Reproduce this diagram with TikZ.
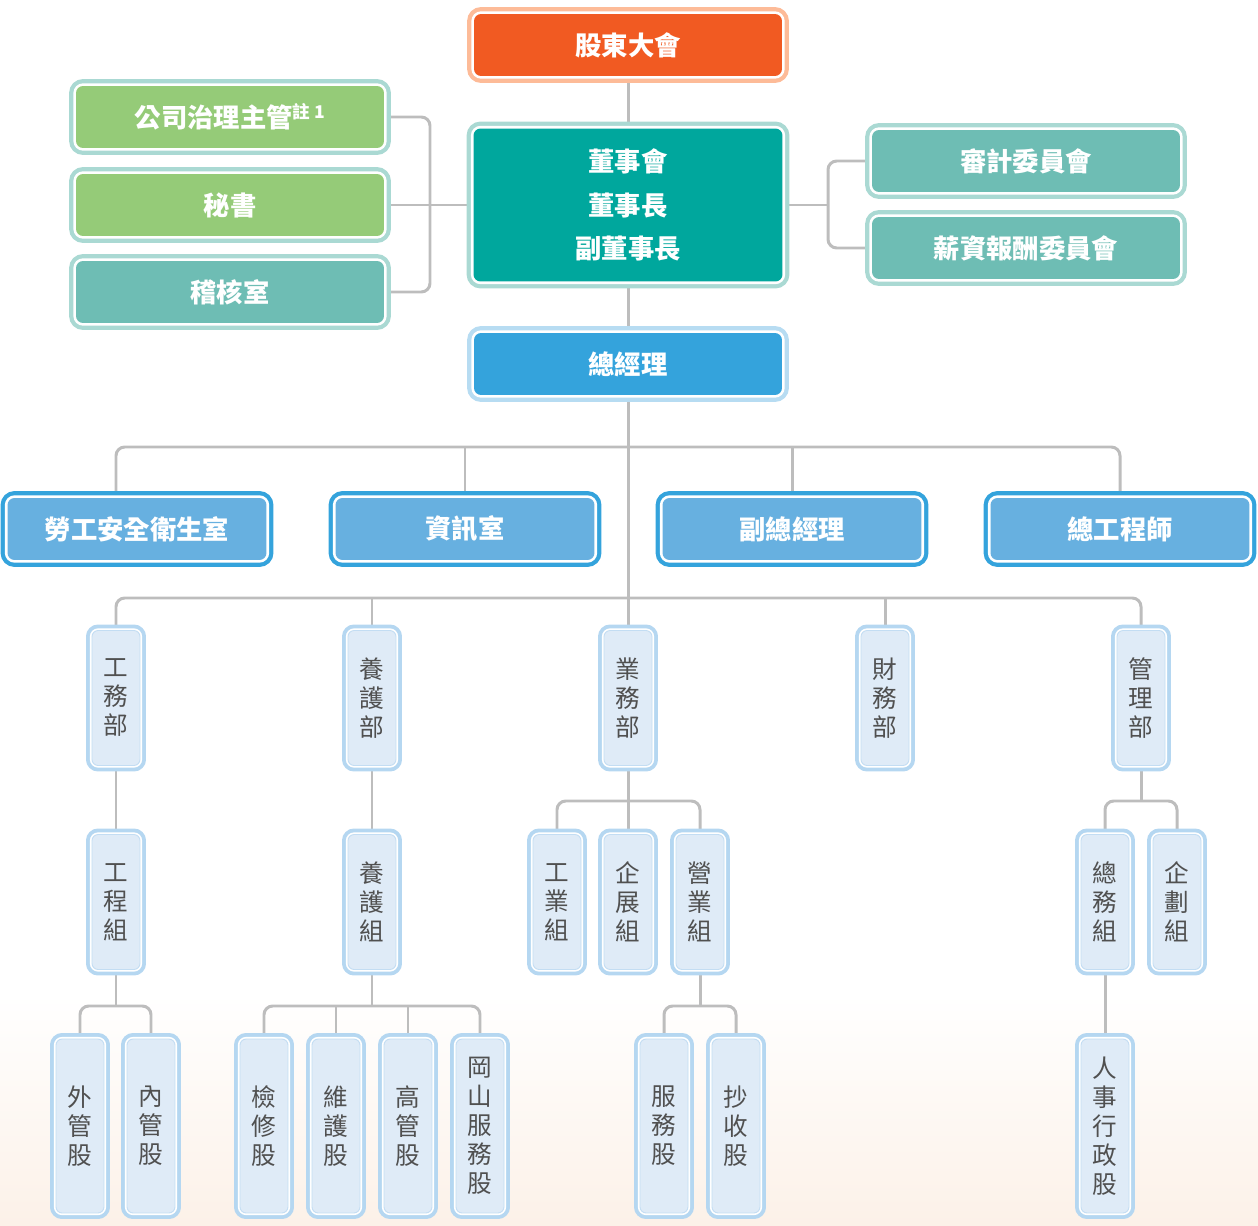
\documentclass[tikz,border=0pt]{standalone}
\usepackage{fontspec}
\usetikzlibrary{backgrounds}
\newfontfamily\tcfont{Noto Sans CJK TC}

\definecolor{shfill}{HTML}{F15A22}
\definecolor{shline}{HTML}{FDBB98}
\definecolor{bdfill}{HTML}{00A79D}
\definecolor{tlline}{HTML}{AAD9D3}
\definecolor{grfill}{HTML}{95CB78}
\definecolor{aufill}{HTML}{6EBDB4}
\definecolor{gmfill}{HTML}{34A3DC}
\definecolor{gmline}{HTML}{B7DCF2}
\definecolor{rwfill}{HTML}{67B0E0}
\definecolor{rwline}{HTML}{34A3DC}
\definecolor{vfill}{HTML}{DFEBF7}
\definecolor{vline}{HTML}{B5D7F1}
\definecolor{vthin}{HTML}{C3DDF3}
\definecolor{txgray}{HTML}{505050}
\definecolor{connc}{HTML}{BDBDBD}
\definecolor{peach}{HTML}{FCF1E8}

\begin{document}
\begin{tikzpicture}[x=0.02cm, y=-0.02cm]
    \tikzset{box/.style 2 args={rounded corners=4pt, inner sep=0pt, fill=#1, text=white,
                font=\tcfont\bfseries\fontsize{15pt}{17pt}\selectfont,
                preaction={draw=#2, double=white, line width=2.4pt, double distance=3pt}},
            wide/.style={minimum width=6.16cm, minimum height=1.24cm},
            rowbox/.style={box={rwfill}{rwline}, minimum width=5.18cm, minimum height=1.24cm},
            vbox/.style={rounded corners=3.5pt, inner sep=0pt, fill=vfill, draw=vthin, line width=0.5pt,
                text=txgray, align=center, minimum width=0.96cm, minimum height=#1,
                font=\tcfont\fontsize{14pt}{16.5pt}\selectfont,
                preaction={draw=vline, double=white, line width=2.2pt, double distance=2.4pt}},
            conn/.style={draw=connc, line width=1.7pt, rounded corners=5pt}};
    \useasboundingbox (0,0) rectangle (1258,1226);
    % top
    \node[box={shfill}{shline}, wide] (sh) at (628,45) {股東大會};
    \node[box={bdfill}{tlline}, minimum width=6.18cm, minimum height=3.06cm, align=center,
          font=\tcfont\bfseries\fontsize{15pt}{24.7pt}\selectfont] (board) at (628,205) {董事會\\董事長\\副董事長};
    \node[box={grfill}{tlline}, wide] (gov) at (230,117) {公司治理主管\raisebox{5pt}{\fontsize{10pt}{10pt}\selectfont 註 1}};
    \node[box={grfill}{tlline}, wide] (sec) at (230,205) {秘書};
    \node[box={aufill}{tlline}, wide] (aud) at (230,292) {稽核室};
    \node[box={aufill}{tlline}, wide] (audc) at (1026,161) {審計委員會};
    \node[box={aufill}{tlline}, wide] (pay) at (1026,248) {薪資報酬委員會};
    \node[box={gmfill}{gmline}, wide] (gm) at (628,364) {總經理};
    % second row
    \node[rowbox] (lab) at (137,529) {勞工安全衛生室};
    \node[rowbox] (it) at (465,529) {資訊室};
    \node[rowbox] (vgm) at (792,529) {副總經理};
    \node[rowbox] (ce) at (1120,529) {總工程師};
    % departments
    \node[vbox=2.7cm] (eng) at (116,698) {工\\務\\部};
    \node[vbox=2.7cm] (mnt) at (372,698) {養\\護\\部};
    \node[vbox=2.7cm] (biz) at (628,698) {業\\務\\部};
    \node[vbox=2.7cm] (fin) at (885,698) {財\\務\\部};
    \node[vbox=2.7cm] (adm) at (1141,698) {管\\理\\部};
    % groups
    \node[vbox=2.7cm] (engg) at (116,902) {工\\程\\組};
    \node[vbox=2.7cm] (mntg) at (372,902) {養\\護\\組};
    \node[vbox=2.7cm] (ind) at (557,902) {工\\業\\組};
    \node[vbox=2.7cm] (dev) at (628,902) {企\\展\\組};
    \node[vbox=2.7cm] (sal) at (700,902) {營\\業\\組};
    \node[vbox=2.7cm] (gen) at (1105,902) {總\\務\\組};
    \node[vbox=2.7cm] (plan) at (1177,902) {企\\劃\\組};
    % sections
    \node[vbox=3.48cm] (out) at (80,1126) {外\\管\\股};
    \node[vbox=3.48cm] (inn) at (151,1126) {內\\管\\股};
    \node[vbox=3.48cm] (ins) at (264,1126) {檢\\修\\股};
    \node[vbox=3.48cm] (rep) at (336,1126) {維\\護\\股};
    \node[vbox=3.48cm] (hi) at (408,1126) {高\\管\\股};
    \node[vbox=3.48cm] (gs) at (480,1126) {岡\\山\\服\\務\\股};
    \node[vbox=3.48cm] (svc) at (664,1126) {服\\務\\股};
    \node[vbox=3.48cm] (col) at (736,1126) {抄\\收\\股};
    \node[vbox=3.48cm] (hr) at (1105,1126) {人\\事\\行\\政\\股};
    % buses
    \coordinate (busA) at (628,447);
    \coordinate (busB) at (628,598);
    \coordinate (busC) at (628,801);
    \coordinate (busD) at (1141,801);
    \coordinate (busE) at (116,1006);
    \coordinate (busF) at (372,1006);
    \coordinate (busG) at (700,1006);
    \coordinate (lbrk) at (430,205);
    \coordinate (rbrk) at (828,205);
    \begin{scope}[on background layer]
        \shade[top color=white, bottom color=peach] (0,995) rectangle (1258,1226);
        \draw[conn] (sh) -- (board);
        \draw[conn] (gov.east) -| (lbrk) |- (aud.east);
        \draw[conn] (sec.east) -- (board.west);
        \draw[conn] (audc.west) -| (rbrk) |- (pay.west);
        \draw[conn] (board.east) -- (rbrk);
        \draw[conn] (board) -- (gm);
        \draw[conn] (gm.south) -- (biz.north);
        \draw[conn] ([xshift=-0.42cm]lab.north) |- (busA) -| (ce.north);
        \foreach \n in {it, vgm} \draw[conn] (\n.north) -- (\n.north |- busA);
        \draw[conn] (eng.north) |- (busB) -| (adm.north);
        \foreach \n in {mnt, fin} \draw[conn] (\n.north) -- (\n.north |- busB);
        \draw[conn] (eng) -- (engg);
        \draw[conn] (mnt) -- (mntg);
        \draw[conn] (biz) -- (dev);
        \draw[conn] (ind.north) |- (busC) -| (sal.north);
        \draw[conn] (adm.south) -- (busD);
        \draw[conn] (gen.north) |- (busD) -| (plan.north);
        \draw[conn] (engg.south) -- (busE);
        \draw[conn] (out.north) |- (busE) -| (inn.north);
        \draw[conn] (mntg.south) -- (busF);
        \draw[conn] (ins.north) |- (busF) -| (gs.north);
        \foreach \n in {rep, hi} \draw[conn] (\n.north) -- (\n.north |- busF);
        \draw[conn] (sal.south) -- (busG);
        \draw[conn] (svc.north) |- (busG) -| (col.north);
        \draw[conn] (gen) -- (hr);
    \end{scope}
\end{tikzpicture}
\end{document}
